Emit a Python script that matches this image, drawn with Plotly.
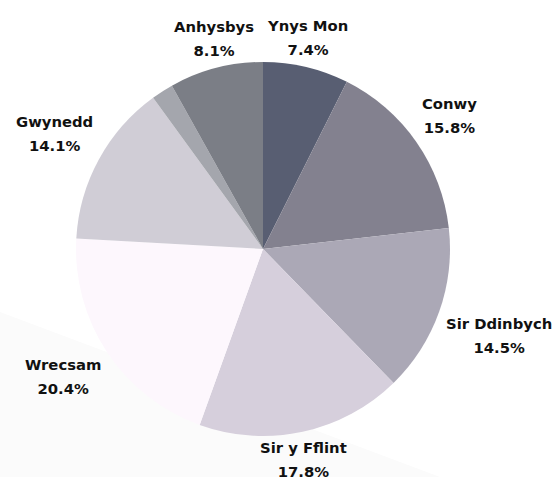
import math
import plotly.graph_objects as go

labels = ["Ynys Mon", "Conwy", "Sir Ddinbych", "Sir y Fflint", "Wrecsam", "Gwynedd", "Arall", "Anhysbys"]
values = [7.4, 15.8, 14.5, 17.8, 20.4, 14.1, 1.9, 8.1]
colors = ["#585e72", "#83818f", "#aba8b6", "#d6cfdc", "#fdf7fd", "#d0cdd6", "#a4a6ad", "#7b7e86"]
show_label = [True, True, True, True, True, True, False, True]

W, H = 553, 477
ML, MR, MT, MB = 76, 103, 62, 41
PW, PH = W - ML - MR, H - MT - MB
CX, CY = ML + PW / 2, MT + PH / 2
R = min(PW, PH) / 2
GAP = 6

def to_paper(px, py):
    return (px - ML) / PW, (H - MB - py) / PH

fig = go.Figure(go.Pie(
    labels=labels,
    values=values,
    sort=False,
    direction="clockwise",
    rotation=0,
    marker=dict(colors=colors, line=dict(width=0)),
    textinfo="none",
    showlegend=False,
    hoverinfo="label+percent",
))

# outside labels placed at each slice's mid-angle (derived from the values)
total = sum(values)
cum = 0.0
annotations = []
span = "<span style='font-size:14.8px'><b>{}</b></span>"
for lab, val, show in zip(labels, values, show_label):
    mid = (cum + val / 2) / total * 2 * math.pi
    cum += val
    if not show:
        continue
    s, c = math.sin(mid), math.cos(mid)
    px = CX + (R + GAP) * s
    py = CY - (R + GAP) * c
    xa = "left" if s > 0.5 else ("right" if s < -0.5 else "center")
    ya = "bottom" if c > 0 else "top"
    x, y = to_paper(px, py)
    annotations.append(dict(
        x=x, y=y, xref="paper", yref="paper", xanchor=xa, yanchor=ya,
        yshift=2 if c > 0 else 0,
        text=span.format(lab) + "<br>" + span.format(f"{val:.1f}%"),
        showarrow=False, align="center", borderpad=0,
        font=dict(family="DejaVu Sans, sans-serif", size=18.8, color="#111111"),
    ))

x0, y0 = to_paper(0, 312)
x1, y1 = to_paper(440, 477)
x2, y2 = to_paper(0, 480)
x3, y3 = to_paper(-5, 480)

fig.update_layout(
    width=W, height=H,
    margin=dict(l=ML, r=MR, t=MT, b=MB),
    paper_bgcolor="white",
    plot_bgcolor="white",
    annotations=annotations,
    shapes=[dict(type="path", xref="paper", yref="paper", layer="below",
                 path=f"M {x3} {y0} L {x0} {y0} L {x1} {y1} L {x2} {y2} L {x3} {y3} Z",
                 fillcolor="#fbfbfb", line=dict(width=0))],
)

fig.write_html("out.html", config={"displayModeBar": False},
               post_script="document.body.style.margin='0';")
